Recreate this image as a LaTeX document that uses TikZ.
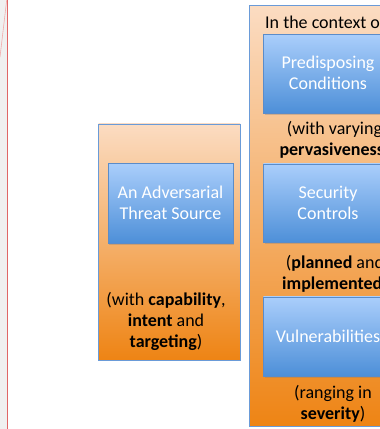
\documentclass[tikz,border=0pt]{standalone}
\usepackage{fontspec}
\setmainfont{Carlito}
\usetikzlibrary{shadows}
\definecolor{pageedge}{HTML}{F0F0F0}
\definecolor{marginred}{HTML}{E06666}
\definecolor{faintred}{HTML}{F2AAAA}
\definecolor{peach}{HTML}{FBDCC2}
\definecolor{deeporange}{HTML}{EE8414}
\definecolor{frameblue}{HTML}{6A9BD8}
\definecolor{lightblue}{HTML}{AACEFB}
\definecolor{midblue}{HTML}{4D8FD8}
\definecolor{boxline}{HTML}{5B8CC9}
\tikzset{
  x=1pt, y=1pt,
  groupbox/.style={draw=frameblue, line width=0.8pt, top color=peach, bottom color=deeporange},
  factorbox/.style={draw=boxline, line width=0.5pt, top color=lightblue, bottom color=midblue,
    drop shadow={shadow xshift=1.2pt, shadow yshift=-1.6pt, opacity=0.35}},
  factortext/.style={text=white, font=\fontsize{18}{21}\selectfont, align=center, inner sep=0pt},
  caption/.style={text=black, font=\fontsize{18}{21}\selectfont, align=center, inner sep=0pt},
}
\begin{document}
\begin{tikzpicture}
\useasboundingbox (0,0) rectangle (380,429);
\clip (0,0) rectangle (380,429);
\fill[white] (0,0) rectangle (380,429);
% page edge and margin rule
\fill[pageedge] (0,0) rectangle (7.3,429);
\draw[faintred, line width=0.6pt] (0,372) -- (6.7,429);
\draw[marginred, line width=1pt] (7.3,0) -- (7.3,429);

% threat source group
\path[groupbox] (98.5,69) rectangle (240,305);
\path[factorbox] (108,185.7) rectangle (233,265.7);
\node[factortext] (threat) at (170.5,226.5) {An Adversarial\\Threat Source};
\node[caption] (threatcap) at (166,108) {(with \textbf{capability},\\\textbf{intent} and\\\textbf{targeting})};

% context group
\path[groupbox] (249,2.3) rectangle (520,423.3);
\node[caption, anchor=base west] (ctx) at (265,400) {In the context of};

\path[factorbox] (263.3,315.7) rectangle (391,394.7);
\node[factortext] (predisp) at (328,356) {Predisposing\\Conditions};
\node[caption] (predcap) at (334.5,289) {(with varying\\\textbf{pervasiveness})};

\path[factorbox] (263.3,186.3) rectangle (391,265);
\node[factortext] (controls) at (328,226.5) {Security\\Controls};
\node[caption] (ctrlcap) at (335,155) {(\textbf{planned} and\\\textbf{implemented})};

\path[factorbox] (263.3,53) rectangle (391,132);
\node[factortext] (vuln) at (328,92.5) {Vulnerabilities};
\node[caption] (vulncap) at (333,25) {(ranging in\\\textbf{severity})};
\end{tikzpicture}
\end{document}
